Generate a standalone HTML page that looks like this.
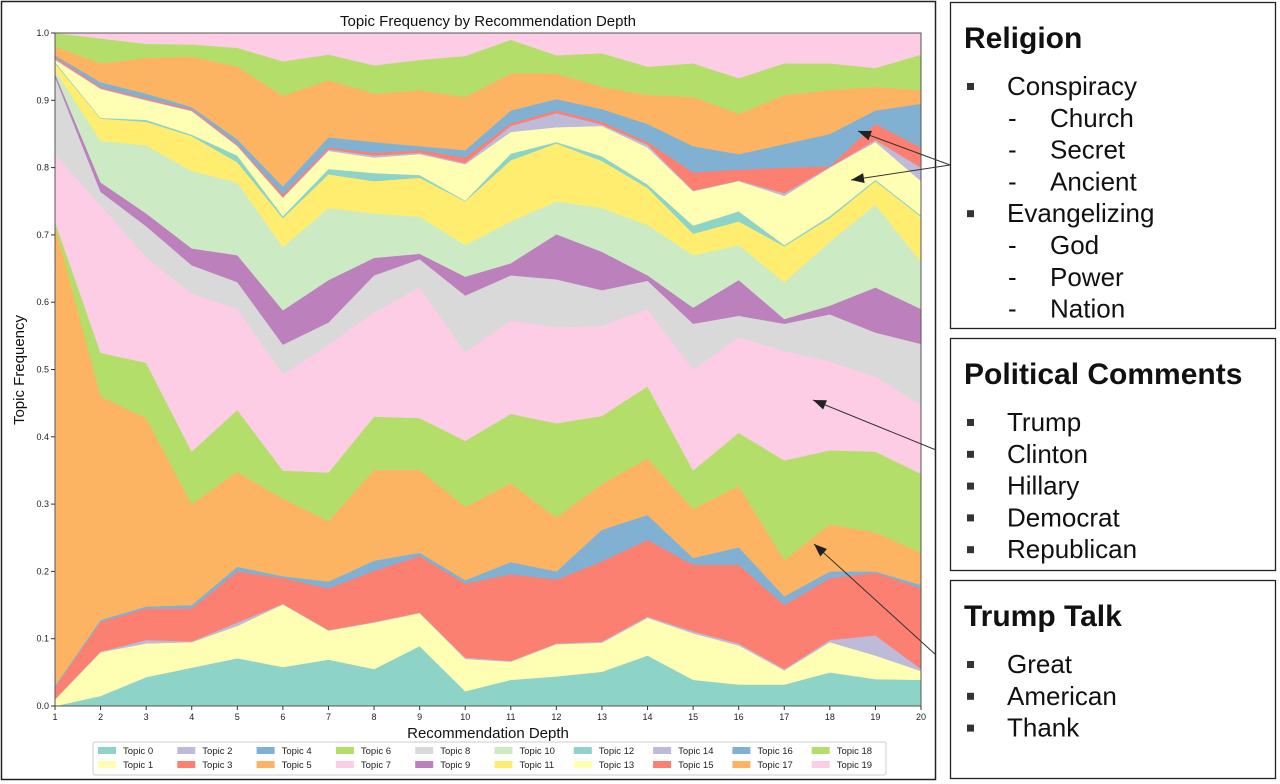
<!DOCTYPE html>
<html><head><meta charset="utf-8">
<style>
body{margin:0;background:#fff;width:1280px;height:784px;overflow:hidden;font-family:"Liberation Sans",sans-serif}
svg{position:absolute;left:0;top:0}
</style></head><body>
<svg id="chart" width="1280" height="784"></svg>
<script>
const depths=[1,2,3,4,5,6,7,8,9,10,11,12,13,14,15,16,17,18,19,20];
const topicNames=["Topic 0","Topic 1","Topic 2","Topic 3","Topic 4","Topic 5","Topic 6","Topic 7","Topic 8","Topic 9","Topic 10","Topic 11","Topic 12","Topic 13","Topic 14","Topic 15","Topic 16","Topic 17","Topic 18","Topic 19"];
const t0=[0,.015,.043,.057,.071,.058,.069,.055,.089,.022,.039,.044,.051,.075,.039,.032,.032,.05,.04,.039];
const t1=[.01,.065,.05,.038,.048,.093,.043,.069,.049,.048,.027,.048,.043,.056,.069,.058,.021,.045,.035,.013];
const t2=[0,.001,.005,.001,.005,.001,.001,.001,.001,.002,.001,.001,.002,.002,.003,.003,.002,.003,.03,.003];
const t3=[.018,.044,.047,.049,.076,.038,.062,.076,.084,.11,.129,.095,.119,.114,.099,.117,.095,.092,.093,.12];
const t4=[.002,.003,.003,.005,.007,.003,.01,.015,.005,.005,.018,.012,.047,.037,.01,.026,.013,.01,.002,.005];
const t5=[.685,.332,.28,.15,.141,.115,.09,.135,.123,.109,.117,.08,.068,.084,.073,.091,.054,.07,.058,.048];
const t6=[.005,.065,.082,.078,.092,.042,.072,.079,.077,.098,.103,.14,.101,.107,.057,.079,.148,.11,.12,.117];
const t7=[.1,.219,.157,.235,.15,.143,.19,.155,.194,.132,.139,.143,.134,.115,.15,.142,.163,.132,.112,.102];
const t8=[.115,.02,.046,.042,.04,.044,.033,.055,.042,.084,.067,.071,.053,.042,.068,.032,.04,.07,.065,.091];
const t9=[.005,.014,.019,.025,.04,.051,.063,.026,.008,.028,.018,.067,.057,.008,.024,.053,.007,.013,.067,.052];
const t10=[.005,.062,.101,.115,.108,.094,.107,.066,.055,.047,.062,.049,.065,.075,.078,.052,.055,.095,.123,.07];
const t11=[.01,.033,.035,.052,.03,.043,.05,.048,.058,.065,.091,.086,.07,.055,.032,.035,.053,.035,.035,.067];
const t12=[.002,.001,.003,.002,.01,.003,.008,.012,.004,.001,.01,.002,.007,.005,.012,.015,.002,.003,.002,.002];
const t13=[.003,.043,.029,.035,.014,.027,.027,.023,.031,.054,.032,.022,.045,.055,.051,.045,.073,.072,.056,.051];
const t14=[.002,.001,.001,.001,.001,.001,.002,.003,.002,.002,.009,.021,.002,.004,.001,.001,.004,.001,.003,.02];
const t15=[.003,.002,.002,.002,.002,.004,.003,.004,.004,.008,.004,.004,.004,.004,.027,.016,.038,.001,.024,.03];
const t16=[.002,.007,.007,.003,.007,.012,.015,.016,.006,.011,.019,.017,.019,.027,.039,.023,.035,.048,.02,.065];
const t17=[.013,.028,.053,.075,.108,.135,.085,.072,.083,.079,.055,.038,.033,.043,.073,.06,.073,.065,.035,.02];
const t18=[.02,.037,.021,.018,.028,.051,.038,.042,.045,.061,.05,.027,.05,.042,.05,.053,.047,.04,.028,.053];
const t19=[0,.008,.016,.017,.022,.042,.032,.048,.04,.034,.01,.033,.03,.05,.045,.067,.045,.045,.052,.032];
const yTicks=[0,0.1,0.2,0.3,0.4,0.5,0.6,0.7,0.8,0.9,1.0];
const yTickLabels=["0.0","0.1","0.2","0.3","0.4","0.5","0.6","0.7","0.8","0.9","1.0"];
const series=[t0,t1,t2,t3,t4,t5,t6,t7,t8,t9,t10,t11,t12,t13,t14,t15,t16,t17,t18,t19];
const colors=["#8dd3c7","#ffffb3","#bebada","#fb8072","#80b1d3","#fdb462","#b3de69","#fccde5","#d9d9d9","#bc80bd","#ccebc5","#ffed6f"];

const NS="http://www.w3.org/2000/svg";
const svg=document.getElementById('chart');
const L=55,R=921,T=33,B=706;
const xs=d=>L+(d-1)/(depths[depths.length-1]-1)*(R-L);
const ys=v=>B-v*(B-T);
function mk(tag,attrs,parent){const e=document.createElementNS(NS,tag);for(const k in attrs)e.setAttribute(k,attrs[k]);(parent||svg).appendChild(e);return e;}

const frame=mk('rect',{x:1.5,y:1.5,width:934,height:778,fill:'none',stroke:'#222','stroke-width':1.5});



const areas=mk('g',{});


let cum=depths.map(()=>0);
series.forEach((s,i)=>{
  const lower=cum.slice();
  const upper=cum.map((c,j)=>c+s[j]);
  let d='';
  depths.forEach((dp,j)=>{d+=(j?'L':'M')+xs(dp).toFixed(1)+','+ys(upper[j]).toFixed(1);});
  for(let j=depths.length-1;j>=0;j--)d+='L'+xs(depths[j]).toFixed(1)+','+ys(lower[j]).toFixed(1);
  const p=mk('path',{d:d+'Z',fill:colors[i%12],stroke:colors[i%12],'stroke-width':0.5},areas);
  
  
  cum=upper;
});

const ax=mk('rect',{x:L,y:T,width:R-L,height:B-T,fill:'none',stroke:'#555','stroke-width':1});



yTicks.forEach((v,i)=>{
  mk('line',{x1:L-4,x2:L,y1:ys(v),y2:ys(v),stroke:'#333'});
  const t=mk('text',{x:L-6,y:ys(v)+3,'font-size':9,'text-anchor':'end',fill:'#222'});
  t.textContent=yTickLabels[i];
  
  
});
depths.forEach(d=>{
  mk('line',{x1:xs(d),x2:xs(d),y1:B,y2:B+4,stroke:'#333'});
  const t=mk('text',{x:xs(d),y:B+14,'font-size':9,'text-anchor':'middle',fill:'#222'});
  t.textContent=d;
  
  
});
const title=mk('text',{x:(L+R)/2,y:26,'font-size':15,'text-anchor':'middle',fill:'#111'});
title.textContent='Topic Frequency by Recommendation Depth';


const xl=mk('text',{x:(L+R)/2,y:738,'font-size':15,'text-anchor':'middle',fill:'#111'});
xl.textContent='Recommendation Depth';


const yl=mk('text',{x:0,y:0,'font-size':15,'text-anchor':'middle',fill:'#111',transform:'translate(24,370) rotate(-90)'});
yl.textContent='Topic Frequency';



const lg=mk('g',{});


mk('rect',{x:93,y:742,width:793,height:33,fill:'#fff',stroke:'#ccc',rx:2},lg);
topicNames.forEach((n,i)=>{
  const col=Math.floor(i/2),row=i%2;
  const x=98+col*79.3,y=747+row*14;
  const g=mk('g',{},lg);
  
  
  mk('rect',{x:x,y:y,width:18,height:7,fill:colors[i%12]},g);
  const t=mk('text',{x:x+25,y:y+7,'font-size':9.5,fill:'#222'},g);
  t.textContent=n;
});

function panel(name,y,h,head,items){
  const g=mk('g',{});
  
  
  mk('rect',{x:950.5,y:y+.5,width:325,height:h,fill:'#fff',stroke:'#222','stroke-width':1.3},g);
  const ht=mk('text',{x:964,y:y+46,'font-size':30,'font-weight':'bold',fill:'#111'},g);
  ht.textContent=head;
  items.forEach((it,k)=>{
    const yy=y+93+k*31.8;
    if(it.sub){
      const d=mk('text',{x:1008,y:yy,'font-size':26,fill:'#111'},g);d.textContent='-';
      const t=mk('text',{x:1050,y:yy,'font-size':26,fill:'#111'},g);t.textContent=it.t;
    }else{
      mk('rect',{x:967,y:yy-12,width:7,height:7,fill:'#333'},g);
      const t=mk('text',{x:1007,y:yy,'font-size':26,fill:'#111'},g);t.textContent=it.t;
    }
  });
}
panel('religion-panel',2,326,'Religion',[{t:'Conspiracy'},{t:'Church',sub:1},{t:'Secret',sub:1},{t:'Ancient',sub:1},{t:'Evangelizing'},{t:'God',sub:1},{t:'Power',sub:1},{t:'Nation',sub:1}]);
panel('political-comments-panel',338,232,'Political Comments',[{t:'Trump'},{t:'Clinton'},{t:'Hillary'},{t:'Democrat'},{t:'Republican'}]);
panel('trump-talk-panel',580,198,'Trump Talk',[{t:'Great'},{t:'American'},{t:'Thank'}]);

function arrow(x1,y1,x2,y2){
  const g=mk('g',{});
  
  
  mk('line',{x1:x1,y1:y1,x2:x2,y2:y2,stroke:'#333','stroke-width':1},g);
  const a=Math.atan2(y1-y2,x1-x2),l=13,w=5;
  const bx=x2+l*Math.cos(a),by=y2+l*Math.sin(a);
  const px=-Math.sin(a)*w,py=Math.cos(a)*w;
  mk('polygon',{points:`${x2},${y2} ${bx+px},${by+py} ${bx-px},${by-py}`,fill:'#222'},g);
}
arrow(950,165,858,131);
arrow(950,165,851,180);
arrow(936,450,813,400);
arrow(936,655,814,544);
</script>
</body></html>
